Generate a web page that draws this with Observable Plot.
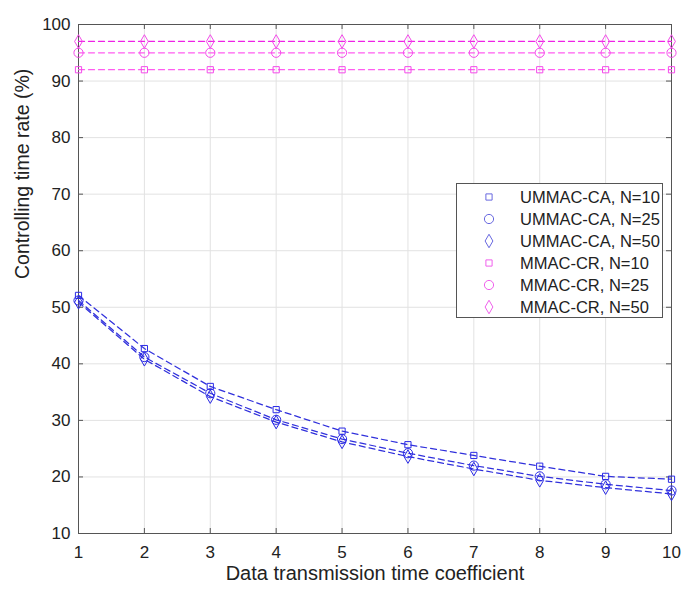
<!DOCTYPE html>
<html><head><meta charset="utf-8">
<script src="https://cdn.jsdelivr.net/npm/d3@7"></script>
<script src="https://cdn.jsdelivr.net/npm/@observablehq/plot@0.6"></script>
<style>
body{margin:0;background:#fff;}
#wrap{position:relative;width:681px;height:589px;font-family:"Liberation Sans",Arial,sans-serif;}
#legend{position:absolute;left:456px;top:183px;width:207px;height:135px;border:1px solid #555;background:#fff;box-sizing:border-box;padding-top:2px;}
.row{height:22px;display:flex;align-items:center;font-size:16.5px;color:#222;white-space:nowrap;}
.row svg{margin-left:24px;margin-right:23px;flex:none;}
</style>
</head><body>
<div id="wrap"></div>
<script>
const coefficients = [1, 2, 3, 4, 5, 6, 7, 8, 9, 10];
const ummacN10 = [52.1, 42.7, 36.0, 31.9, 28.1, 25.7, 23.8, 21.9, 20.1, 19.6];
const ummacN25 = [51.2, 41.2, 34.8, 30.1, 26.7, 24.2, 22.0, 20.1, 18.7, 17.6];
const ummacN50 = [50.9, 40.8, 34.2, 29.7, 26.2, 23.6, 21.4, 19.4, 18.1, 17.0];
const mmacN10 = [92, 92, 92, 92, 92, 92, 92, 92, 92, 92];
const mmacN25 = [95, 95, 95, 95, 95, 95, 95, 95, 95, 95];
const mmacN50 = [97, 97, 97, 97, 97, 97, 97, 97, 97, 97];
const seriesNames = ["UMMAC-CA, N=10", "UMMAC-CA, N=25", "UMMAC-CA, N=50", "MMAC-CR, N=10", "MMAC-CR, N=25", "MMAC-CR, N=50"];
const xTicks = [1, 2, 3, 4, 5, 6, 7, 8, 9, 10];
const yTicks = [10, 20, 30, 40, 50, 60, 70, 80, 90, 100];

const seriesValues = [ummacN10, ummacN25, ummacN50, mmacN10, mmacN25, mmacN50];
const symbols = ["square", "circle", "diamond", "square", "circle", "diamond"];
const radii = [3.5, 4.6, 4.1, 3.5, 4.6, 4.1];
const lineColors = ["#3030dc", "#3030dc", "#3030dc", "#ff5cf0", "#ff5cf0", "#ee22e6"];
const dotColors = ["#2a2ae6", "#2a2ae6", "#2a2ae6", "#f44aea", "#f44aea", "#f44aea"];
const legendColors = ["#6868e0", "#6868e0", "#6868e0", "#f060ec", "#f060ec", "#f060ec"];

const rows = [];
seriesNames.forEach((s, i) => coefficients.forEach((c, j) => rows.push({series: s, idx: i, x: c, y: seriesValues[i][j]})));

const W = 681, H = 589, mL = 78, mR = 10, mT = 24, mB = 56;
const tickPxY = 5 * 90 / (H - mT - mB);
const tickPxX = 5 * 9 / (W - mL - mR);

const marks = [
  Plot.gridX(xTicks, {stroke: "#e2e2e2", strokeOpacity: 1}),
  Plot.gridY(yTicks, {stroke: "#e2e2e2", strokeOpacity: 1}),
  Plot.ruleX(xTicks, {x: d => d, y1: 10, y2: 10 + tickPxY, stroke: "#555"}),
  Plot.ruleX(xTicks, {x: d => d, y1: 100, y2: 100 - tickPxY, stroke: "#555"}),
  Plot.ruleY(yTicks, {y: d => d, x1: 1, x2: 1 + tickPxX, stroke: "#555"}),
  Plot.ruleY(yTicks, {y: d => d, x1: 10, x2: 10 - tickPxX, stroke: "#555"}),
  Plot.frame({stroke: "#555"}),
  Plot.axisX(xTicks, {tickSize: 0, tickPadding: 12, fontSize: 17, label: null, fill: "#222"}),
  Plot.axisY(yTicks, {tickSize: 0, tickPadding: 8, fontSize: 17, label: null, fill: "#222"}),
  Plot.text(["Data transmission time coefficient"], {text: d => d, frameAnchor: "bottom", dy: 46, fontSize: 20, fill: "#222"}),
  Plot.text(["Controlling time rate (%)"], {text: d => d, frameAnchor: "left", dx: -56, rotate: -90, fontSize: 19.5, fill: "#222"})
];
seriesNames.forEach((s, i) => {
  const d = rows.filter(r => r.idx === i);
  marks.push(Plot.line(d, {x: "x", y: "y", stroke: lineColors[i], strokeWidth: 1.25, strokeDasharray: "6,4"}));
});
seriesNames.forEach((s, i) => {
  const d = rows.filter(r => r.idx === i);
  marks.push(Plot.dot(d, {x: "x", y: "y", symbol: () => symbols[i], r: radii[i], stroke: dotColors[i], strokeWidth: 1, fill: "none"}));
});

const chart = Plot.plot({
  width: W, height: H,
  marginLeft: mL, marginRight: mR, marginTop: mT, marginBottom: mB,
  style: {fontFamily: "'Liberation Sans', Arial, sans-serif", background: "#fff"},
  x: {domain: [1, 10]},
  y: {domain: [10, 100]},
  symbol: {type: "identity"},
  marks
});
const wrap = document.getElementById("wrap");
wrap.appendChild(chart);

const legend = document.createElement("div");
legend.id = "legend";
seriesNames.forEach((s, i) => {
  const row = document.createElement("div");
  row.className = "row";
  const sym = {square: d3.symbolSquare, circle: d3.symbolCircle, diamond: d3.symbolDiamond}[symbols[i]];
  const r = radii[i];
  const path = d3.symbol(sym, Math.PI * r * r)();
  row.innerHTML = `<svg width="16" height="18" viewBox="-8 -9 16 18"><path d="${path}" fill="none" stroke="${legendColors[i]}" stroke-width="1"/></svg><span>${s}</span>`;
  legend.appendChild(row);
});
wrap.appendChild(legend);
</script>
</body></html>
